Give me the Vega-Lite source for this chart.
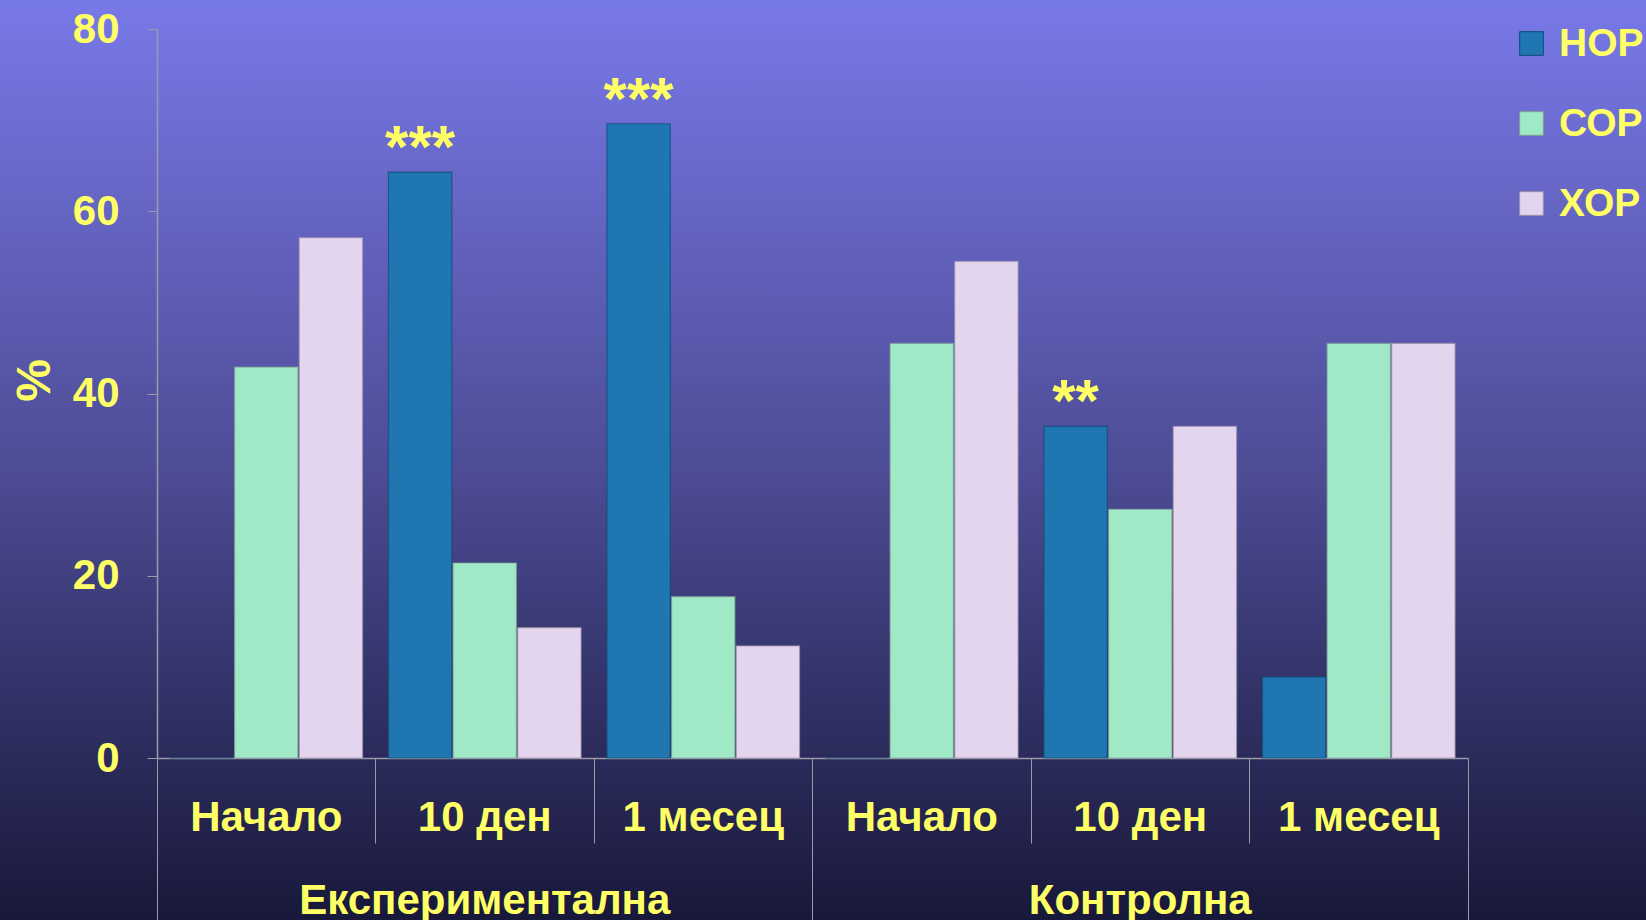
{
  "$schema": "https://vega.github.io/schema/vega-lite/v6.json",
  "width": 1646,
  "height": 920,
  "autosize": {"type": "none"},
  "padding": 0,
  "background": "#1a1a3c",
  "view": {
    "stroke": null,
    "fill": {
      "gradient": "linear",
      "x1": 0, "y1": 0, "x2": 0, "y2": 1,
      "stops": [
        {"offset": 0, "color": "#7879e8"},
        {"offset": 0.5, "color": "#4e4d97"},
        {"offset": 1, "color": "#18183a"}
      ]
    }
  },
  "config": {
    "font": "Liberation Sans",
    "axis": {"grid": false}
  },
  "data": {
    "values": [
      {"group": "Експериментална", "cat": "E|Начало", "series": "НОР", "value": 0, "sig": ""},
      {"group": "Експериментална", "cat": "E|Начало", "series": "СОР", "value": 42.9, "sig": ""},
      {"group": "Експериментална", "cat": "E|Начало", "series": "ХОР", "value": 57.1, "sig": ""},
      {"group": "Експериментална", "cat": "E|10 ден", "series": "НОР", "value": 64.3, "sig": "***"},
      {"group": "Експериментална", "cat": "E|10 ден", "series": "СОР", "value": 21.4, "sig": ""},
      {"group": "Експериментална", "cat": "E|10 ден", "series": "ХОР", "value": 14.3, "sig": ""},
      {"group": "Експериментална", "cat": "E|1 месец", "series": "НОР", "value": 69.6, "sig": "***"},
      {"group": "Експериментална", "cat": "E|1 месец", "series": "СОР", "value": 17.7, "sig": ""},
      {"group": "Експериментална", "cat": "E|1 месец", "series": "ХОР", "value": 12.3, "sig": ""},
      {"group": "Контролна", "cat": "K|Начало", "series": "НОР", "value": 0, "sig": ""},
      {"group": "Контролна", "cat": "K|Начало", "series": "СОР", "value": 45.5, "sig": ""},
      {"group": "Контролна", "cat": "K|Начало", "series": "ХОР", "value": 54.5, "sig": ""},
      {"group": "Контролна", "cat": "K|10 ден", "series": "НОР", "value": 36.4, "sig": "**"},
      {"group": "Контролна", "cat": "K|10 ден", "series": "СОР", "value": 27.3, "sig": ""},
      {"group": "Контролна", "cat": "K|10 ден", "series": "ХОР", "value": 36.4, "sig": ""},
      {"group": "Контролна", "cat": "K|1 месец", "series": "НОР", "value": 8.9, "sig": ""},
      {"group": "Контролна", "cat": "K|1 месец", "series": "СОР", "value": 45.5, "sig": ""},
      {"group": "Контролна", "cat": "K|1 месец", "series": "ХОР", "value": 45.5, "sig": ""}
    ]
  },
  "layer": [
    {
      "encoding": {
        "x": {
          "field": "cat",
          "type": "nominal",
          "sort": ["E|Начало", "E|10 ден", "E|1 месец", "K|Начало", "K|10 ден", "K|1 месец"],
          "scale": {"range": [157, 1468], "paddingInner": 0, "paddingOuter": 0},
          "axis": {
            "orient": "bottom",
            "offset": -162,
            "title": null,
            "domain": true,
            "domainColor": "#9a9aa8",
            "domainWidth": 1.5,
            "ticks": true,
            "bandPosition": 0,
            "tickSize": 85,
            "tickColor": "#9a9aa8",
            "tickWidth": 1,
            "labelExpr": "split(datum.label, '|')[1]",
            "labelAngle": 0,
            "labelBaseline": "middle",
            "labelPadding": -26,
            "labelFontSize": 42,
            "labelFont": "Liberation Sans",
            "labelFontWeight": "bold",
            "labelColor": "#ffff66",
            "labelOverlap": false,
            "labelLimit": 0
          }
        },
        "xOffset": {
          "field": "series",
          "type": "nominal",
          "scale": {"domain": ["НОР", "СОР", "ХОР"], "paddingInner": 0.02, "paddingOuter": 0.2}
        },
        "y": {
          "field": "value",
          "type": "quantitative",
          "scale": {"domain": [0, 80], "range": [758, 29], "nice": false, "zero": true},
          "axis": {
            "orient": "left",
            "offset": -157,
            "values": [0, 20, 40, 60, 80],
            "domainColor": "#9a9aa8",
            "domainWidth": 1.5,
            "tickColor": "#9a9aa8",
            "tickSize": 10,
            "labelPadding": 28,
            "labelFontSize": 42,
            "labelFont": "Liberation Sans",
            "labelFontWeight": "bold",
            "labelColor": "#ffff66",
            "title": "%",
            "titleFontSize": 48,
            "titleFont": "Liberation Sans",
            "titleFontWeight": "bold",
            "titleColor": "#ffff66",
            "titleAngle": -90,
            "titleX": -122,
            "titleY": 380,
            "titleAlign": "center",
            "titleBaseline": "middle"
          }
        }
      },
      "layer": [
        {
          "mark": {"type": "bar", "strokeWidth": 1.2, "strokeOpacity": 0.7},
          "encoding": {
            "fill": {
              "field": "series",
              "type": "nominal",
              "scale": {"domain": ["НОР", "СОР", "ХОР"], "range": ["#1f76b0", "#9fe9c6", "#e4d5ef"]},
              "legend": {
                "orient": "none",
                "legendX": 1512,
                "legendY": 24,
                "title": null,
                "symbolType": "square",
                "symbolSize": 560,
                "symbolStrokeColor": "#44446a",
                "symbolStrokeWidth": 1,
                "labelFontSize": 39,
                "labelFont": "Liberation Sans",
                "labelFontWeight": "bold",
                "labelColor": "#ffff66",
                "labelOffset": 8,
                "labelLimit": 0,
                "rowPadding": 40,
                "padding": 0
              }
            },
            "stroke": {
              "field": "series",
              "type": "nominal",
              "scale": {"domain": ["НОР", "СОР", "ХОР"], "range": ["#0e4a78", "#7f9f95", "#9c92a8"]},
              "legend": null
            }
          }
        },
        {
          "transform": [{"filter": "datum.sig != ''"}],
          "mark": {"type": "text", "baseline": "alphabetic", "align": "center", "dy": -5, "fontSize": 60, "fontWeight": "bold", "font": "Liberation Sans", "color": "#ffff66"},
          "encoding": {
            "text": {"field": "sig", "type": "nominal"}
          }
        }
      ]
    },
    {
      "mark": {"type": "tick", "opacity": 0},
      "encoding": {
        "x": {
          "field": "group",
          "type": "nominal",
          "scale": {"domain": ["Експериментална", "Контролна", " "], "range": [157, 2123.5], "paddingInner": 0, "paddingOuter": 0},
          "axis": {
            "orient": "bottom",
            "offset": -162,
            "title": null,
            "domain": false,
            "ticks": true,
            "bandPosition": 0,
            "tickSize": 162,
            "tickColor": "#9a9aa8",
            "tickWidth": 1,
            "labelAngle": 0,
            "labelBaseline": "middle",
            "labelPadding": -20,
            "labelFontSize": 42,
            "labelFont": "Liberation Sans",
            "labelFontWeight": "bold",
            "labelColor": "#ffff66",
            "labelOverlap": false,
            "labelLimit": 0
          }
        }
      }
    }
  ],
  "resolve": {"scale": {"x": "independent"}, "axis": {"x": "independent"}}
}
